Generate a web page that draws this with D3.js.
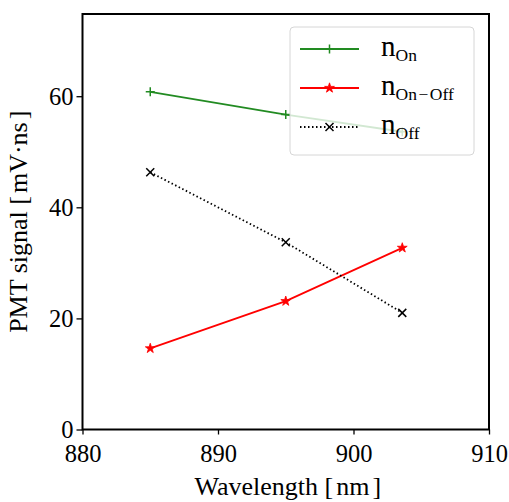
<!DOCTYPE html>
<html>
<head>
<meta charset="utf-8">
<script src="https://cdn.jsdelivr.net/npm/d3@7"></script>
<style>
  body { margin: 0; background: #fff; }
  svg text { font-family: "Liberation Serif", "DejaVu Serif", serif; }
</style>
</head>
<body>
<svg id="chart" width="509" height="502"></svg>
<script>
// Measured signal at three wavelengths
const wavelengths = [885, 895, 903.6];
const nOn = [60.8, 56.7, 53.6];
const nOff = [46.3, 33.7, 21.0];
const nOnOff = [14.6, 23.1, 32.7];
const xTicks = [880, 890, 900, 910];
const yTicks = [0, 20, 40, 60];

const svg = d3.select("#chart");
const margin = { left: 82.5, right: 20, top: 14, bottom: 72.5 };
const W = 509, H = 502;

const x = d3.scaleLinear().domain([880, 910]).range([margin.left, W - margin.right]);
const y = d3.scaleLinear().domain([0, 74.8]).range([H - margin.bottom, margin.top]);

// label pieces: [text, dx before it]
const series = [
  { key: "on", values: nOn, color: "#228b22", dash: null, marker: "plus", sub: [["On", 0]] },
  { key: "onoff", values: nOnOff, color: "#ff0000", dash: null, marker: "star", sub: [["On", 0], ["\u2212", 1.5], ["Off", 1.5]] },
  { key: "off", values: nOff, color: "#000000", dash: "1.5,2.5", marker: "x", sub: [["Off", 0]] }
];

function drawMarker(g, type, cx, cy, color) {
  if (type === "plus") {
    g.append("path").attr("d", `M${cx - 4.5},${cy}H${cx + 4.5}M${cx},${cy - 4.5}V${cy + 4.5}`)
      .attr("stroke", color).attr("stroke-width", 1.5).attr("fill", "none");
  } else if (type === "x") {
    g.append("path").attr("d", `M${cx - 4},${cy - 4}L${cx + 4},${cy + 4}M${cx - 4},${cy + 4}L${cx + 4},${cy - 4}`)
      .attr("stroke", color).attr("stroke-width", 1.5).attr("fill", "none");
  } else if (type === "star") {
    g.append("path").attr("d", d3.symbol(d3.symbolStar, 30)())
      .attr("transform", `translate(${cx},${cy})`)
      .attr("fill", color).attr("stroke", color).attr("stroke-width", 0.8);
  }
}

const plot = svg.append("g");
series.forEach(s => {
  const pts = wavelengths.map((w, i) => [x(w), y(s.values[i])]);
  plot.append("path")
    .attr("d", d3.line()(pts))
    .attr("fill", "none")
    .attr("stroke", s.color)
    .attr("stroke-width", 1.8)
    .attr("stroke-dasharray", s.dash);
  pts.forEach(p => drawMarker(plot, s.marker, p[0], p[1], s.color));
});

// Axes
const xAxis = d3.axisBottom(x).tickValues(xTicks).tickSize(5).tickPadding(4).tickFormat(d3.format("d"));
const yAxis = d3.axisLeft(y).tickValues(yTicks).tickSize(6).tickPadding(3).tickFormat(d3.format("d"));

const gx = svg.append("g").attr("transform", `translate(0,${H - margin.bottom})`).call(xAxis);
const gy = svg.append("g").attr("transform", `translate(${margin.left},0)`).call(yAxis);
[gx, gy].forEach(g => {
  g.select(".domain").remove();
  g.selectAll(".tick line").attr("stroke", "#000").attr("stroke-width", 1.3);
  g.selectAll(".tick text").attr("fill", "#000").style("font-size", "24.5px");
});
gx.selectAll(".tick text").attr("dy", "0.95em");

// Frame
svg.append("rect")
  .attr("x", margin.left).attr("y", margin.top)
  .attr("width", W - margin.right - margin.left)
  .attr("height", H - margin.bottom - margin.top)
  .attr("fill", "none").attr("stroke", "#000").attr("stroke-width", 2);

// Axis titles, with a little air inside the unit brackets
function bracketLabel(t, name, unit) {
  t.append("tspan").text(name + " [");
  t.append("tspan").attr("dx", 3).text(unit);
  t.append("tspan").attr("dx", 3).text("]");
}
bracketLabel(
  svg.append("text")
    .attr("x", (margin.left + W - margin.right) / 2 + 2).attr("y", 495)
    .attr("text-anchor", "middle").style("font-size", "26px"),
  "Wavelength", "nm");
bracketLabel(
  svg.append("text")
    .attr("transform", `translate(27,${(margin.top + H - margin.bottom) / 2}) rotate(-90)`)
    .attr("text-anchor", "middle").style("font-size", "26px"),
  "PMT signal", "mV\u00b7ns");

// Legend
const leg = svg.append("g");
leg.append("rect")
  .attr("x", 290).attr("y", 27).attr("width", 184).attr("height", 128)
  .attr("rx", 4).attr("fill", "rgba(255,255,255,0.8)")
  .attr("stroke", "#d6d6d6").attr("stroke-width", 1);
series.forEach((s, i) => {
  const ly = 49 + i * 39;
  leg.append("line").attr("x1", 300).attr("x2", 359).attr("y1", ly).attr("y2", ly)
    .attr("stroke", s.color).attr("stroke-width", 1.8).attr("stroke-dasharray", s.dash);
  drawMarker(leg, s.marker, 329.5, ly, s.color);
  const t = leg.append("text").attr("x", 381).attr("y", ly + 7).style("font-size", "29px");
  t.append("tspan").text("n");
  s.sub.forEach((p, j) => {
    const ts = t.append("tspan").style("font-size", "17.5px").attr("dx", p[1]).text(p[0]);
    if (j === 0) ts.attr("dy", 4.5);
  });
});
</script>
</body>
</html>
